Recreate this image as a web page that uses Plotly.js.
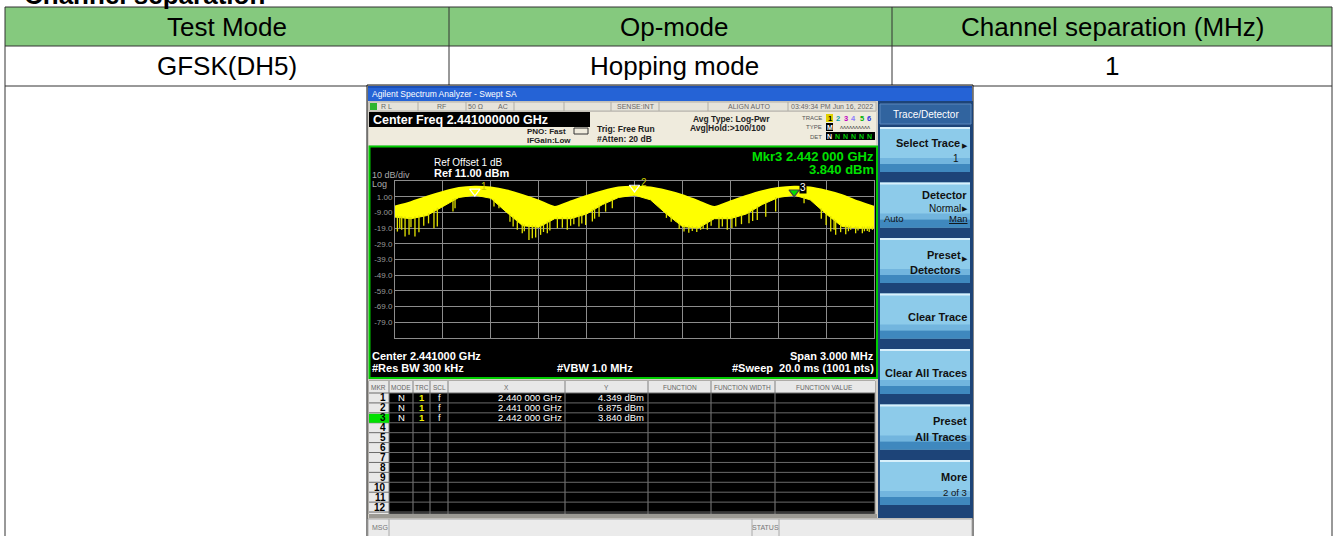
<!DOCTYPE html>
<html><head><meta charset="utf-8">
<script src="https://cdn.plot.ly/plotly-3.0.1.min.js"></script>
<style>html,body{margin:0;padding:0;background:#fff;overflow:hidden}#chart{width:1336px;height:536px}</style>
</head><body><div id="chart"></div>
<script>
// ================= DATA =================
const pageTitle = 'Channel separation';
const tableHeaders = ['Test Mode', 'Op-mode', 'Channel separation (MHz)'];
const tableRow = ['GFSK(DH5)', 'Hopping mode', '1'];

// spectrum trace: upper envelope and lower edge of the solid yellow band (read every 0.1 MHz)
const envFreqMHz = [2439.5, 2439.6, 2439.7, 2439.8, 2439.9, 2440.0, 2440.1, 2440.2, 2440.3, 2440.4,
  2440.5, 2440.6, 2440.7, 2440.8, 2440.9, 2441.0, 2441.1, 2441.2, 2441.3, 2441.4,
  2441.5, 2441.6, 2441.7, 2441.8, 2441.9, 2442.0, 2442.1, 2442.2, 2442.3, 2442.4, 2442.5];
const envUpperDbm = [-5.3, -2.5, 1.0, 4.0, 6.5, 7.3, 6.8, 5.0, 2.0, -1.5,
  -5.5, -2.0, 1.5, 4.5, 6.8, 7.3, 6.8, 4.8, 2.0, -1.8,
  -5.5, -2.0, 1.5, 4.5, 6.5, 7.3, 6.8, 4.8, 2.0, -2.0, -5.5];
const envLowerDbm = [-12.0, -13.0, -11.0, -5.0, 0.5, 2.0, 0.0, -9.0, -17.5, -18.5,
  -13.0, -13.0, -10.0, -4.0, 0.5, 2.0, -1.0, -10.0, -18.0, -19.0,
  -13.0, -13.0, -10.0, -4.0, 0.5, 2.0, -1.0, -10.0, -18.0, -19.0, -19.0];
// downward spikes below the band
const spikeFreqMHz = [2439.515, 2439.530, 2439.542, 2439.563, 2439.588, 2439.600, 2439.625, 2439.650, 2439.680, 2439.710,
  2439.744, 2439.765, 2439.863, 2439.876, 2440.120, 2440.151, 2440.220, 2440.240, 2440.266, 2440.297,
  2440.310, 2440.339, 2440.360, 2440.381, 2440.412, 2440.430, 2440.454, 2440.470, 2440.517, 2440.548,
  2440.579, 2440.600, 2440.620, 2440.652, 2440.670, 2440.694, 2440.736, 2440.750, 2440.778, 2440.819,
  2440.861, 2441.153, 2441.200, 2441.230, 2441.258, 2441.280, 2441.310, 2441.340, 2441.362, 2441.390,
  2441.414, 2441.430, 2441.456, 2441.480, 2441.529, 2441.550, 2441.581, 2441.610, 2441.634, 2441.670,
  2441.717, 2441.740, 2441.769, 2441.822, 2441.884, 2442.062, 2442.170, 2442.200, 2442.229, 2442.250,
  2442.260, 2442.291, 2442.323, 2442.340, 2442.354, 2442.385, 2442.400, 2442.427, 2442.440, 2442.458,
  2442.470, 2442.490];
const spikeLowDbm = [-21.2, -19.0, -20.1, -24.4, -23.3, -18.5, -24.4, -21.6, -17.5, -16.0,
  -19.1, -18.0, -8.5, -6.4, -5.3, -6.4, -15.0, -18.0, -20.1, -22.3,
  -21.0, -26.5, -25.4, -25.0, -23.3, -21.5, -22.3, -20.5, -19.1, -18.7,
  -20.1, -17.5, -16.5, -18.0, -16.0, -17.0, -14.8, -13.0, -11.7, -8.5,
  -6.4, -5.3, -12.5, -15.0, -14.8, -19.5, -21.2, -22.0, -20.8, -21.5,
  -20.1, -19.5, -20.1, -17.5, -19.1, -18.0, -20.1, -19.0, -18.0, -16.5,
  -15.9, -14.5, -13.8, -11.7, -8.5, -3.2, -13.0, -17.0, -21.2, -20.0,
  -23.3, -21.6, -22.9, -21.0, -20.1, -22.3, -20.5, -22.3, -21.0, -20.8,
  -21.5, -20.1];

const yTickVals = [1, -9, -19, -29, -39, -49, -59, -69, -79];
const yTickText = ['1.00', '-9.00', '-19.0', '-29.0', '-39.0', '-49.0', '-59.0', '-69.0', '-79.0'];
const xGridMHz = [2439.8, 2440.1, 2440.4, 2440.7, 2441.0, 2441.3, 2441.6, 2441.9, 2442.2];

const markerIds = [1, 2, 3];
const markerModes = ['N', 'N', 'N'];
const markerTraces = ['1', '1', '1'];
const markerScales = ['f', 'f', 'f'];
const markerFreqGHz = [2.440, 2.441, 2.442];
const markerLevelDbm = [4.349, 6.875, 3.840];
const activeMarker = 3;

const tableColHeads = ['MKR', 'MODE', 'TRC', 'SCL', 'X', 'Y', 'FUNCTION', 'FUNCTION WIDTH', 'FUNCTION VALUE'];
const statusCells = ['R L', 'RF', '50 Ω', 'AC', 'SENSE:INT', 'ALIGN AUTO', '03:49:34 PM Jun 16, 2022'];
const softkeyHeader = 'Trace/Detector';

// ================= HELPERS =================
const W = 1336, H = 536;
const FONT = 'Liberation Sans, Arial, Helvetica, sans-serif';
const shapes = [], ann = [];
const X = v => v / W, Y = v => 1 - v / H;
function rect(x0, y0, x1, y1, fill, lc, lw, layer) {
  shapes.push({type: 'rect', xref: 'paper', yref: 'paper', x0: X(x0), x1: X(x1), y0: Y(y1), y1: Y(y0),
    fillcolor: fill || 'rgba(0,0,0,0)', line: {color: lc || 'rgba(0,0,0,0)', width: lc ? (lw || 1) : 0}, layer: layer || 'below'});
}
function seg(x0, y0, x1, y1, color, lw, layer) {
  shapes.push({type: 'line', xref: 'paper', yref: 'paper', x0: X(x0), x1: X(x1), y0: Y(y0), y1: Y(y1),
    line: {color: color, width: lw || 1}, layer: layer || 'below'});
}
function txt(x, y, t, size, color, anchor, bold, extra) {
  ann.push(Object.assign({xref: 'paper', yref: 'paper', x: X(x), y: Y(y), text: bold ? '<b>' + t + '</b>' : t,
    showarrow: false, xanchor: anchor || 'left', yanchor: 'middle', borderpad: 0,
    font: {family: FONT, size: size, color: color}}, extra || {}));
}
function fmtFreq(g) { const s = g.toFixed(6); return s.slice(0, 5) + ' ' + s.slice(5) + ' GHz'; }
function fmtLvl(v) { return v.toFixed(3) + ' dBm'; }
function interp(xs, ys, x) {
  for (let i = 0; i < xs.length - 1; i++) if (x >= xs[i] && x <= xs[i + 1]) {
    const t = (x - xs[i]) / (xs[i + 1] - xs[i]); return ys[i] + t * (ys[i + 1] - ys[i]);
  }
  return ys[ys.length - 1];
}

// ================= PAGE TABLE =================
txt(23, -5, pageTitle, 26, '#000', 'left', true);
rect(5, 7, 1332, 46, '#85c97e');
const colX = [5, 449, 892, 1332];
const colTextShift = [0, 4, 0];
seg(5, 7, 1332, 7, '#333'); seg(5, 46, 1332, 46, '#333'); seg(5, 86, 1332, 86, '#333');
seg(5, 7, 5, 536, '#333'); seg(1332, 7, 1332, 536, '#333');
seg(449, 7, 449, 86, '#333'); seg(892, 7, 892, 86, '#333');
for (let i = 0; i < 3; i++) {
  const cx = (colX[i] + colX[i + 1]) / 2 + colTextShift[i];
  txt(cx, 27, tableHeaders[i], 26, '#000', 'center');
  txt(cx, 66, tableRow[i], 26, '#000', 'center');
}

// ================= ANALYZER SCREEN =================
rect(367, 85, 973, 540, '#d4d0c8', '#111', 1);
// title bar
rect(368, 86, 972, 101, '#2563d6');
rect(368, 86, 972, 88, '#1a4fb8');
txt(371, 93.5, 'Agilent Spectrum Analyzer - Swept SA', 8.5, '#fff', 'left');
// status row
rect(369, 102, 876, 111, '#e6e3da', '#b5b2aa', 1);
[418, 466, 514, 564, 611, 659, 708, 788].forEach(x => seg(x, 102, x, 111, '#b0ada5'));
rect(370, 103, 377, 110, '#2fb52f');
const statusPos = [[380, 'left'], [441, 'center'], [476, 'center'], [503, 'center'], [636, 'center'], [749, 'center'], [832, 'center']];
statusCells.forEach((s, i) => txt(statusPos[i][0], 106.5, s, 7, '#666', statusPos[i][1]));
// settings panel
rect(369, 112, 876, 145, '#efebdd');
rect(369, 112, 590, 127, '#000');
txt(372, 120, 'Center Freq 2.441000000 GHz', 12.5, '#fff', 'left', true);
txt(526, 131, 'PNO: Fast', 8, '#222', 'left', true);
txt(526, 140, 'IFGain:Low', 8, '#222', 'left', true);
rect(574, 128, 588, 134, 'rgba(0,0,0,0)', '#333', 1);
txt(596, 129.5, 'Trig: Free Run', 8.5, '#222', 'left', true);
txt(596, 139.5, '#Atten: 20 dB', 8.5, '#222', 'left', true);
txt(692, 118.5, 'Avg Type: Log-Pwr', 8.5, '#222', 'left', true);
txt(689, 128, 'Avg|Hold:>100/100', 8.5, '#222', 'left', true);
txt(823, 117.5, 'TRACE', 6, '#555', 'right');
txt(823, 127, 'TYPE', 6, '#555', 'right');
txt(823, 136.5, 'DET', 6, '#555', 'right');
const trColors = ['#000', '#00a0a0', '#c000c0', '#8a7aff', '#00b000', '#3030e0'];
rect(826, 114, 833, 122, '#e0d000');
trColors.forEach((c, i) => txt(829.5 + i * 8, 118, String(i + 1), 7.5, c, 'center', true));
rect(826, 123, 833, 131, '#000');
txt(829.5, 127, 'M', 7, '#fff', 'center', true);
txt(855, 127, 'ᴧᴧᴧᴧᴧᴧᴧᴧᴧᴧ', 6, '#444', 'center');
rect(826, 132, 875, 140, '#000');
txt(829.5, 136, 'N', 7, '#fff', 'center', true);
for (let i = 1; i < 6; i++) txt(829.5 + i * 8, 136, 'N', 7, '#00d000', 'center', true);

// graph box
rect(369.5, 146.5, 877, 378, '#000', '#00cc00', 2);
txt(433, 162, 'Ref Offset 1 dB', 10, '#fff', 'left');
txt(433, 173, 'Ref 11.00 dBm', 11, '#fff', 'left', true);
txt(371, 174.5, '10 dB/div', 9, '#aaa', 'left');
txt(371, 183.5, 'Log', 9, '#aaa', 'left');
const am = markerIds.indexOf(activeMarker);
txt(875, 156.5, 'Mkr' + activeMarker + ' ' + fmtFreq(markerFreqGHz[am]), 13, '#00e000', 'right', true);
txt(875, 169.5, fmtLvl(markerLevelDbm[am]), 13, '#00e000', 'right', true);
txt(371, 356, 'Center 2.441000 GHz', 11, '#fff', 'left', true);
txt(875, 356, 'Span 3.000 MHz', 11, '#fff', 'right', true);
txt(371, 368, '#Res BW 300 kHz', 11, '#fff', 'left', true);
txt(556, 368, '#VBW 1.0 MHz', 11, '#fff', 'left', true);
txt(875, 368, '#Sweep  20.0 ms (1001 pts)', 11, '#fff', 'right', true);

// marker table
const tY0 = 381, hdrH = 12, rowH = 9.92;
rect(369, tY0, 875, 514, '#000', '#888', 1);
rect(369, tY0, 875, tY0 + hdrH, '#e8e8e8');
rect(369, tY0 + hdrH, 389, 514, '#e8e8e8');
const colSep = [389, 413, 430, 448, 565, 648, 711, 775];
colSep.forEach(x => seg(x, tY0, x, 514, '#808080'));
for (let r = 0; r <= 12; r++) seg(369, tY0 + hdrH + r * rowH, 875, tY0 + hdrH + r * rowH, '#6a6a6a');
const colCent = [379, 401, 421.5, 439, 506, 606, 679.5, 743, 824];
tableColHeads.forEach((h, i) => txt(colCent[i], tY0 + 6.5, h, 6.5, '#666', 'center'));
for (let r = 1; r <= 12; r++) {
  const yc = tY0 + hdrH + (r - 0.5) * rowH;
  if (r === activeMarker) rect(369, yc - rowH / 2 + 1, 389, yc + rowH / 2, '#00e000');
  txt(387, yc, String(r), 10, '#000', 'right', true);
}
markerIds.forEach((id, i) => {
  const yc = tY0 + hdrH + (id - 0.5) * rowH;
  txt(401, yc, markerModes[i], 9.5, '#fff', 'center');
  txt(421.5, yc, markerTraces[i], 9.5, '#f0f000', 'center', true);
  txt(439, yc, markerScales[i], 9.5, '#fff', 'center');
  txt(563, yc, fmtFreq(markerFreqGHz[i]), 9.5, '#fff', 'right');
  txt(645, yc, fmtLvl(markerLevelDbm[i]), 9.5, '#fff', 'right');
});
rect(369, 514, 877, 518, '#9c9a94');
// message bar
rect(368, 519, 972, 540, '#ebebeb', '#aaa', 1);
seg(389, 519, 389, 536, '#aaa'); seg(752, 519, 752, 536, '#aaa'); seg(779, 519, 779, 536, '#aaa');
txt(371, 527, 'MSG', 7, '#777', 'left');
txt(765.5, 527, 'STATUS', 7, '#777', 'center');

// softkey panel
rect(878, 101, 973, 518, '#1d4478');
rect(880, 104, 971, 124, '#31649f', '#5a86bb', 1);
txt(925.5, 114.5, softkeyHeader, 10, '#fff', 'center');
const softTops = [127, 182.5, 238, 293.5, 349, 404.5, 460];
softTops.forEach(t => {
  rect(880, t, 970, t + 45, '#8dcbea');
  rect(880, t, 970, t + 2, '#d8f0fb');
  rect(880, t + 31, 970, t + 37, '#72b5de');
  rect(880, t + 37, 970, t + 45, '#3f88be');
});
const arrowS = 7;
txt(961, 143, 'Select Trace', 11, '#111', 'right', true); txt(969, 146, '▶', arrowS, '#111', 'right');
txt(960, 158, '1', 10, '#111', 'right');
txt(968, 195, 'Detector', 11, '#111', 'right', true);
txt(962, 208, 'Normal', 10, '#111', 'right'); txt(969, 208, '▶', arrowS, '#111', 'right');
txt(883, 218, 'Auto', 9.5, '#111', 'left');
txt(968, 218, '<u>Man</u>', 9.5, '#111', 'right');
txt(962, 255, 'Preset', 11, '#111', 'right', true); txt(969, 258, '▶', arrowS, '#111', 'right');
txt(962, 270, 'Detectors', 11, '#111', 'right', true);
txt(968, 317, 'Clear Trace', 11, '#111', 'right', true);
txt(968, 373, 'Clear All Traces', 11, '#111', 'right', true);
txt(968, 421, 'Preset', 11, '#111', 'right', true);
txt(968, 437, 'All Traces', 11, '#111', 'right', true);
txt(968, 477, 'More', 11, '#111', 'right', true);
txt(968, 492, '2 of 3', 9.5, '#111', 'right');

// ================= TRACES =================
const spX = [], spY = [];
spikeFreqMHz.forEach((f, i) => {
  spX.push(f, f, null);
  spY.push(interp(envFreqMHz, envLowerDbm, f) + 1, spikeLowDbm[i], null);
});
const mkX = markerFreqGHz.map(g => g * 1000);
const traces = [
  {x: envFreqMHz, y: envLowerDbm, mode: 'lines', line: {color: '#ffff00', width: 1}, hoverinfo: 'skip'},
  {x: envFreqMHz, y: envUpperDbm, mode: 'lines', fill: 'tonexty', fillcolor: '#ffff00',
    line: {color: '#ffff00', width: 2, shape: 'spline', smoothing: 0.7}, hoverinfo: 'skip'},
  {x: spX, y: spY, mode: 'lines', line: {color: '#e4e400', width: 1.3}, hoverinfo: 'skip'},
  {x: mkX, y: markerLevelDbm, mode: 'markers', hoverinfo: 'skip',
    marker: {symbol: markerIds.map(id => id === activeMarker ? 'triangle-down' : 'triangle-down-open'),
      size: 9, color: markerIds.map(id => id === activeMarker ? '#00e000' : '#ffffff'), line: {width: 1.2}}}
];
markerIds.forEach((id, i) => {
  ann.push({x: mkX[i], y: markerLevelDbm[i], xref: 'x', yref: 'y', text: String(id), showarrow: false,
    xshift: 9, yshift: 5, font: {family: FONT, size: 10, color: id === activeMarker ? '#fff' : '#c8c800'},
    bgcolor: id === activeMarker ? '#000' : 'rgba(0,0,0,0)', borderpad: 0});
});

const layout = {
  width: W, height: H, margin: {l: 0, r: 0, t: 0, b: 0},
  paper_bgcolor: '#fff', plot_bgcolor: 'rgba(0,0,0,0)', showlegend: false,
  xaxis: {domain: [X(395), X(874)], range: [2439.5, 2442.5], tickvals: xGridMHz, showticklabels: false,
    showgrid: true, gridcolor: '#8c8c8c', gridwidth: 1, zeroline: false, showline: true, linecolor: '#8c8c8c',
    mirror: true, ticks: '', fixedrange: true},
  yaxis: {domain: [Y(338), Y(181)], range: [-89, 11], tickvals: yTickVals, ticktext: yTickText,
    showgrid: true, gridcolor: '#8c8c8c', gridwidth: 1, zeroline: false, showline: true, linecolor: '#8c8c8c',
    mirror: true, ticks: '', automargin: false, tickfont: {family: FONT, size: 8, color: '#9a9a9a'}, fixedrange: true},
  shapes: shapes, annotations: ann
};
Plotly.newPlot('chart', traces, layout, {displayModeBar: false, staticPlot: true});
</script></body></html>
